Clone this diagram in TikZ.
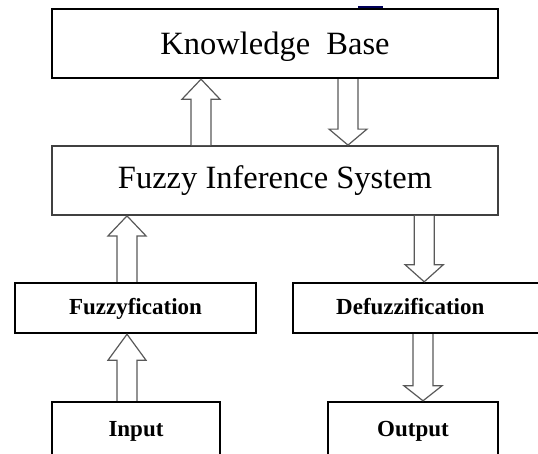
\documentclass[tikz,border=0pt]{standalone}
\usepackage{fontspec}
\setmainfont{Liberation Serif}
\usetikzlibrary{calc}

\tikzset{
  mainbox/.style={draw=black, line width=2.4pt, fill=white, rectangle, inner sep=0pt},
  softbox/.style={draw=black!75, line width=1.8pt, fill=white, rectangle, inner sep=0pt},
  bigtext/.style={font=\fontsize{32.5}{36}\selectfont},
  smalltext/.style={font=\fontsize{23}{26}\selectfont\bfseries,
                    text height=15pt, text depth=3pt},
  hollow/.style={draw=black!65, line width=1.2pt, fill=white, line join=miter},
}

% hollow vertical block arrow leaving point #2 and ending with its tip at
% point #3 (the shaft is aligned with the tip), head length #1
\newcommand\blockarrow[3]{%
  \draw[hollow] let \p1=(#2), \p2=(#3), \n1={ifthenelse(\y2>\y1,1,-1)} in
    (\x2-10pt,\y1) -- (\x2-10pt,\y2-\n1*#1) -- (\x2-19pt,\y2-\n1*#1)
    -- (\x2,\y2) -- (\x2+19pt,\y2-\n1*#1) -- (\x2+10pt,\y2-\n1*#1)
    -- (\x2+10pt,\y1);
}

\begin{document}
\begin{tikzpicture}[x=1pt, y=-1pt]
  \useasboundingbox (0,0) rectangle (538,453);
  \clip (0,0) rectangle (538,453);

  % small dark mark above the top box
  \fill[blue!35!black] (358,5.5) rectangle (383,9);

  % boxes
  \node[mainbox, bigtext, minimum width=446pt, minimum height=69pt, text depth=0pt]
    (kb) at (275,43.5) {Knowledge\ \ Base};
  \node[softbox, bigtext, minimum width=446pt, minimum height=69pt]
    (fis) at (275,180.5) {Fuzzy Inference System};
  \node[mainbox, smalltext, minimum width=241pt, minimum height=50pt]
    (fz) at (135.5,308) {Fuzzyfication};
  \node[mainbox, smalltext, anchor=west, minimum height=50pt,
        text width=182pt, inner xsep=43pt, align=left]
    (df) at (292,308) {Defuzzification};
  \node[mainbox, smalltext, minimum width=168pt, minimum height=56pt]
    (in) at (136,430) {Input};
  \node[mainbox, smalltext, minimum width=170pt, minimum height=56pt]
    (out) at (413,430) {Output};

  % block arrows
  \blockarrow{20pt}{fis.north}{[xshift=-74pt]kb.south}
  \blockarrow{16pt}{kb.south}{[xshift=73pt]fis.north}
  \blockarrow{20pt}{fz.north}{[xshift=-148pt]fis.south}
  \blockarrow{17pt}{fis.south}{[xshift=-3pt]df.north}
  \blockarrow{26pt}{in.north}{[xshift=-8.5pt]fz.south}
  \blockarrow{15pt}{df.south}{[xshift=10pt]out.north}
\end{tikzpicture}
\end{document}
